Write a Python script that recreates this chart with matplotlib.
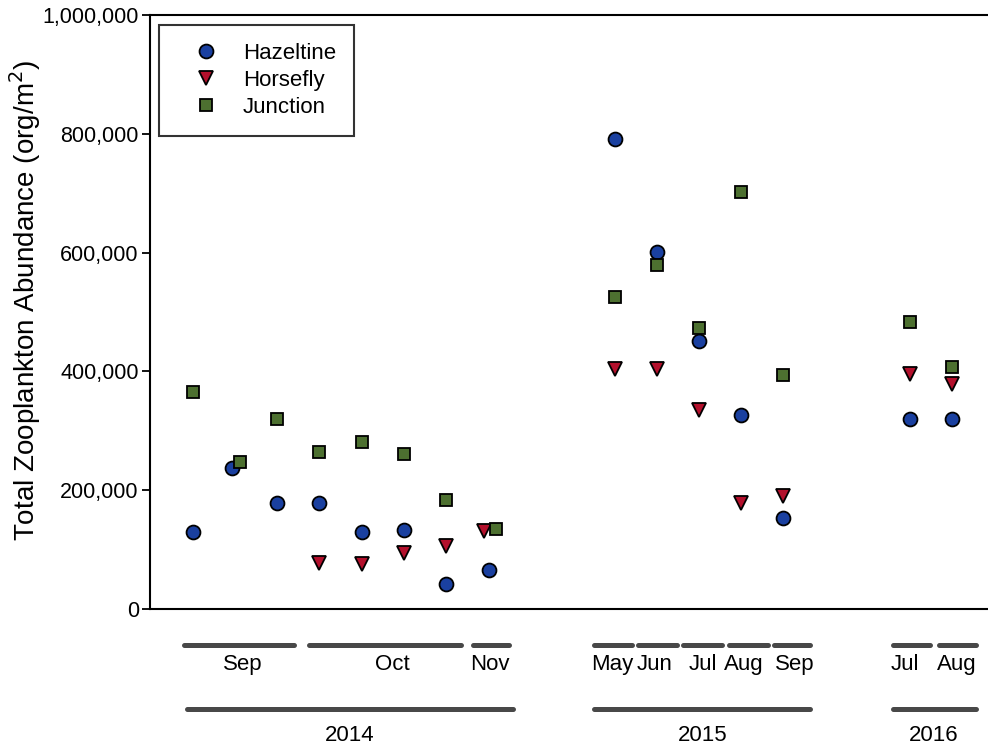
import matplotlib.pyplot as plt
from matplotlib.ticker import FuncFormatter
import matplotlib.transforms as mtransforms

plt.rcParams['font.family'] = ['Liberation Sans', 'DejaVu Sans']

# sampling events, numbered along the x axis (gaps between years)
hazel_x = [0, 0.93, 2, 3, 4, 5, 6, 7.02, 10, 11, 12, 13, 14, 17, 18]
hazel_y = [130000, 237000, 178000, 178000, 130000, 134000, 43000, 66000,
           791000, 601000, 452000, 326000, 153000, 320000, 320000]

horse_x = [3, 4, 5, 6, 6.9, 10, 11, 12, 13, 14, 17, 18]
horse_y = [77000, 76000, 94000, 107000, 132000,
           405000, 404000, 335000, 178000, 191000, 396000, 379000]

junc_x = [0, 1.12, 2, 3, 4, 5, 6, 7.2, 10, 11, 12, 13, 14, 17, 18]
junc_y = [366000, 247000, 320000, 264000, 281000, 261000, 184000, 135000,
          525000, 580000, 473000, 702000, 394000, 483000, 408000]

# month groupings (label, start, end) and year groupings
months = ['Sep', 'Oct', 'Nov', 'May', 'Jun', 'Jul', 'Aug', 'Sep', 'Jul', 'Aug']
month_start = [-0.21, 2.75, 6.64, 9.51, 10.56, 11.63, 12.72, 13.78, 16.61, 17.70]
month_end = [2.40, 6.36, 7.50, 10.42, 11.48, 12.55, 13.64, 14.64, 17.49, 18.58]
month_lab_x = [1.19, 4.72, 7.05, 9.94, 10.96, 12.1, 13.07, 14.28, 16.89, 18.13]

years = ['2014', '2015', '2016']
year_start = [-0.14, 9.51, 16.61]
year_end = [7.59, 14.64, 18.58]
year_lab_x = [3.72, 12.08, 17.56]

fig = plt.figure(figsize=(9.88, 7.52), dpi=100)
ax = fig.add_axes([0.1518, 0.190, 0.8482, 0.790])

ax.plot(hazel_x, hazel_y, 'o', ms=10, mfc='#1a40a0', mec='black', mew=1.3,
        label='Hazeltine', clip_on=False)
ax.plot(horse_x, horse_y, 'v', ms=10, mfc='#b3102c', mec='black', mew=1.3,
        label='Horsefly', clip_on=False)
ax.plot(junc_x, junc_y, 's', ms=9, mfc='#4d7030', mec='black', mew=1.3,
        label='Junction', clip_on=False)

ax.set_xlim(-1.02, 18.86)
ax.set_ylim(0, 1000000)
ax.set_yticks(range(0, 1000001, 200000))
ax.yaxis.set_major_formatter(FuncFormatter(lambda v, p: '{:,.0f}'.format(v)))
ax.tick_params(axis='y', direction='out', length=6, width=1.3, labelsize=15.5,
               pad=2)
ax.set_xticks([])
ax.spines['right'].set_visible(False)
for s in ['left', 'top', 'bottom']:
    ax.spines[s].set_linewidth(1.5)
ax.set_ylabel('Total Zooplankton Abundance (org/m$^2$)', fontsize=20)
ax.yaxis.set_label_coords(-0.128, 0.52)

leg = ax.legend(loc='upper left', bbox_to_anchor=(0.011, 0.983), fontsize=16,
                frameon=True, fancybox=False, edgecolor='black',
                handletextpad=0.36, labelspacing=0.27, borderpad=0.8,
                borderaxespad=0, handlelength=2.6)
leg.get_frame().set_linewidth(1.5)

# month and year bars under the axis
trans = mtransforms.blended_transform_factory(ax.transData, ax.transAxes)
for i in range(len(months)):
    ax.plot([month_start[i], month_end[i]], [-0.0606, -0.0606], color='#484848',
            lw=3.6, solid_capstyle='round', transform=trans, clip_on=False)
    ax.text(month_lab_x[i], -0.094, months[i], transform=trans, ha='center',
            va='center', fontsize=16)
for i in range(len(years)):
    ax.plot([year_start[i], year_end[i]], [-0.168, -0.168], color='#484848',
            lw=3.6, solid_capstyle='round', transform=trans, clip_on=False)
    ax.text(year_lab_x[i], -0.212, years[i], transform=trans, ha='center',
            va='center', fontsize=16)

fig.savefig('out.png', dpi=100)
